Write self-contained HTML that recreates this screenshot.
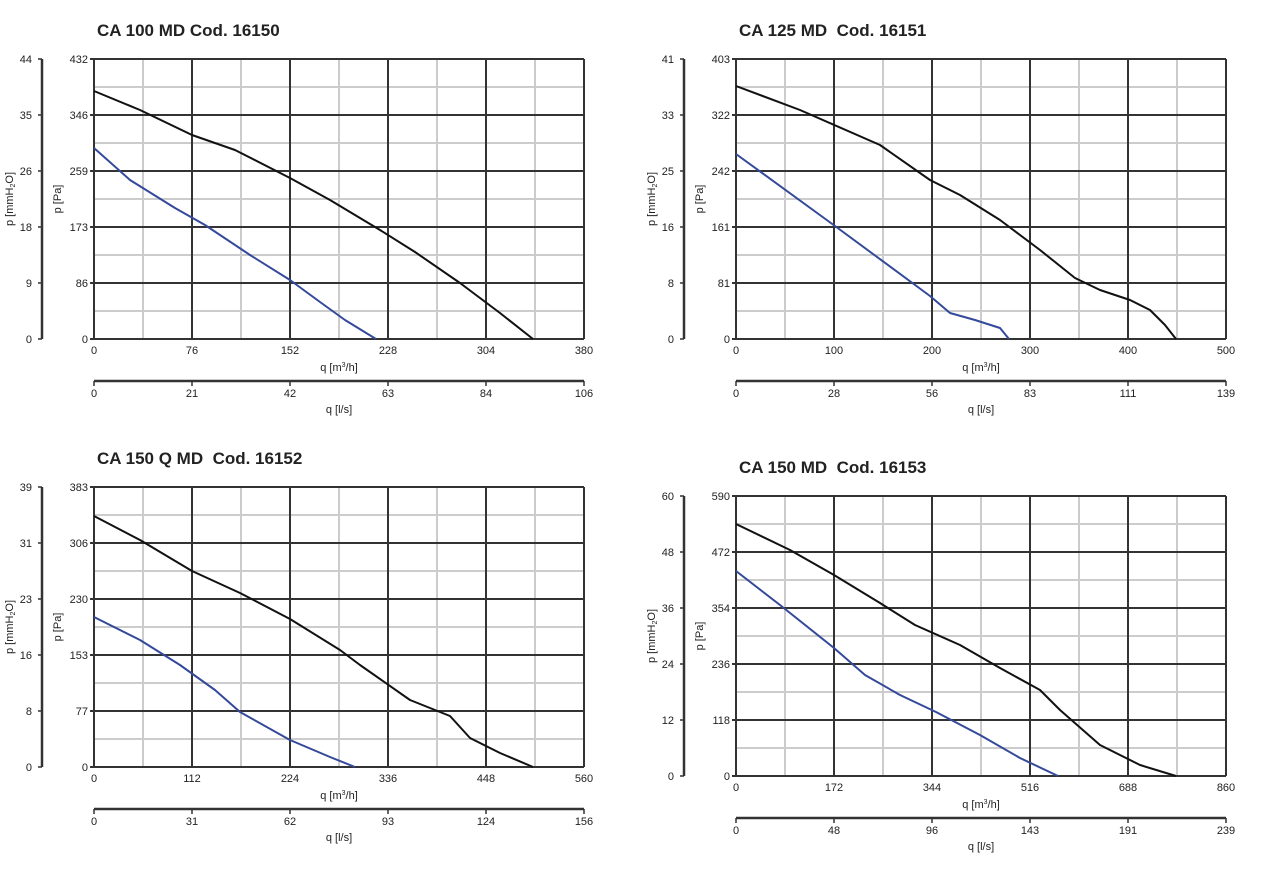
<!DOCTYPE html><html><head><meta charset="utf-8"><style>body{margin:0;background:#fff}svg{display:block}text{font-family:"Liberation Sans",sans-serif;fill:#222}</style></head><body>
<svg width="1268" height="871" xmlns="http://www.w3.org/2000/svg" id="s"></svg>
<script>
const S=document.getElementById('s');let h='';
function chart(o){const {x0,y0,w,ht,lax,yr,yl,xl,ql,title,bl,bu,qy}=o;
const x1=x0+w,y1=y0+ht;
h+=`<text x="${x0+3}" y="${y0-23}" font-size="17" font-weight="bold" fill="#3a3a3a">${title}</text>`;
for(let i=1;i<10;i+=2){let x=x0+w*i/10;h+=`<line x1="${x}" y1="${y0}" x2="${x}" y2="${y1}" stroke="#ccc" stroke-width="2"/>`;}
for(let i=1;i<10;i+=2){let y=y0+ht*i/10;h+=`<line x1="${x0}" y1="${y}" x2="${x1}" y2="${y}" stroke="#ccc" stroke-width="2"/>`;}
for(let i=0;i<=5;i++){let x=x0+w*i/5;h+=`<line x1="${x}" y1="${y0}" x2="${x}" y2="${y1}" stroke="#333" stroke-width="2"/>`;
h+=`<text x="${x}" y="${y1+15}" font-size="11" text-anchor="middle">${xl[i]}</text>`;
h+=`<line x1="${x}" y1="${qy}" x2="${x}" y2="${qy+5}" stroke="#333" stroke-width="1.5"/><text x="${x}" y="${qy+16}" font-size="11" text-anchor="middle">${ql[i]}</text>`;}
for(let i=0;i<=5;i++){let y=y1-ht*i/5;h+=`<line x1="${x0-4}" y1="${y}" x2="${x1}" y2="${y}" stroke="#333" stroke-width="2"/>`;
h+=`<text x="${x0-6}" y="${y+4}" font-size="11" text-anchor="end">${yr[i]}</text>`;
h+=`<line x1="${lax}" y1="${y}" x2="${lax+4}" y2="${y}" stroke="#333" stroke-width="1.5"/><text x="${lax-6}" y="${y+4}" font-size="11" text-anchor="end">${yl[i]}</text>`;}
h+=`<line x1="${lax+4}" y1="${y0}" x2="${lax+4}" y2="${y1}" stroke="#333" stroke-width="2.5"/>`;
h+=`<line x1="${x0}" y1="${qy}" x2="${x1}" y2="${qy}" stroke="#333" stroke-width="2.5"/>`;
h+=`<text transform="translate(${x0-33},${(y0+y1)/2}) rotate(-90)" font-size="11" text-anchor="middle">p [Pa]</text>`;
h+=`<text transform="translate(${lax-25},${(y0+y1)/2}) rotate(-90)" font-size="11" text-anchor="middle">p [mmH<tspan font-size="7" dy="2">2</tspan><tspan dy="-2">O]</tspan></text>`;
h+=`<text x="${(x0+x1)/2}" y="${y1+32}" font-size="11" text-anchor="middle">q [m<tspan font-size="7" dy="-4">3</tspan><tspan dy="4">/h]</tspan></text>`;
h+=`<text x="${(x0+x1)/2}" y="${qy+32}" font-size="11" text-anchor="middle">q [l/s]</text>`;
h+=`<polyline fill="none" stroke="#111" stroke-width="2" stroke-linejoin="round" points="${bl}"/>`;
h+=`<polyline fill="none" stroke="#34499a" stroke-width="2" stroke-linejoin="round" points="${bu}"/>`;}
chart({x0:94,y0:59,w:490,ht:280,lax:38,qy:381,title:"CA 100 MD Cod. 16150",yr:[0,86,173,259,346,432],yl:[0,9,18,26,35,44],xl:[0,76,152,228,304,380],ql:[0,21,42,63,84,106],
bl:"94,91 140,110 192,135 235,150 290,178 330,200 380,230 415,252 460,283 500,313 533,339",
bu:"94,148 130,180 175,208 205,225 250,255 290,280 320,302 345,320 376,339"});
chart({x0:736,y0:59,w:490,ht:280,lax:680,qy:381,title:"CA 125 MD&#160; Cod. 16151",yr:[0,81,161,242,322,403],yl:[0,8,16,25,33,41],xl:[0,100,200,300,400,500],ql:[0,28,56,83,111,139],
bl:"736,86 800,110 880,145 930,180 960,195 1000,220 1040,250 1075,278 1100,290 1130,300 1150,310 1165,325 1176,339",
bu:"736,154 835,226 930,296 950,313 975,320 1000,328 1009,339"});
chart({x0:94,y0:487,w:490,ht:280,lax:38,qy:809,title:"CA 150 Q MD&#160; Cod. 16152",yr:[0,77,153,230,306,383],yl:[0,8,16,23,31,39],xl:[0,112,224,336,448,560],ql:[0,31,62,93,124,156],
bl:"94,516 140,540 192,571 240,593 290,619 340,650 360,665 410,700 450,716 470,738 500,753 533,767",
bu:"94,617 140,640 180,665 215,690 240,712 290,740 330,757 355,767"});
chart({x0:736,y0:496,w:490,ht:280,lax:680,qy:818,title:"CA 150 MD&#160; Cod. 16153",yr:[0,118,236,354,472,590],yl:[0,12,24,36,48,60],xl:[0,172,344,516,688,860],ql:[0,48,96,143,191,239],
bl:"736,524 790,550 834,575 880,603 915,625 960,645 1000,668 1040,690 1060,710 1100,745 1140,765 1176,776",
bu:"736,571 780,605 834,648 865,675 900,695 936,712 980,735 1020,758 1058,776"});
S.innerHTML=h;
</script></body></html>
